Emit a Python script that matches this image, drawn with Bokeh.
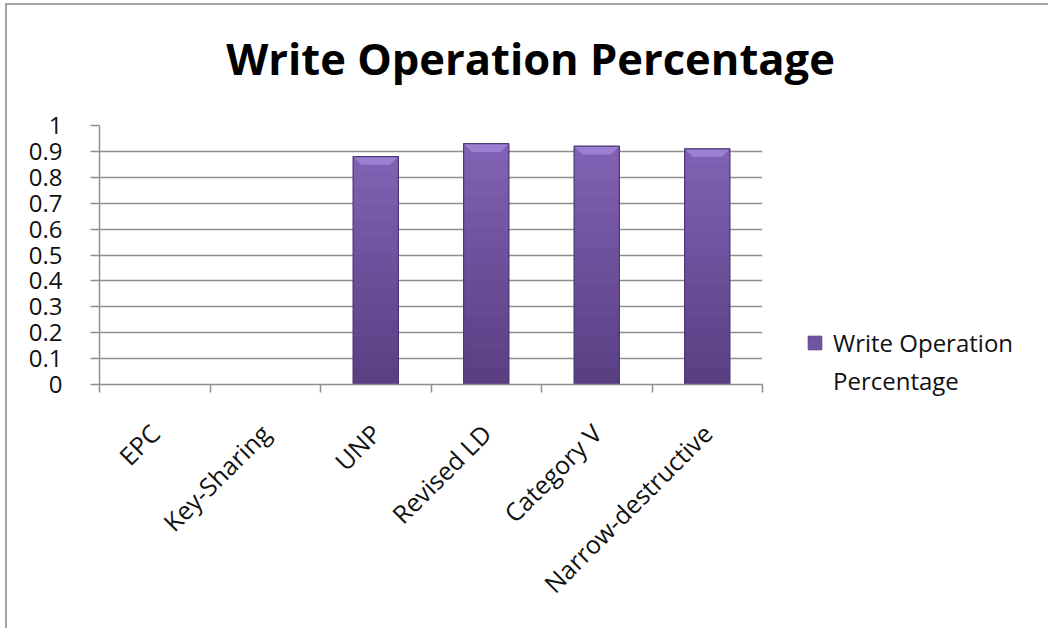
import math
from bokeh.plotting import figure
from bokeh.models import FixedTicker, Range1d, Legend, LegendItem, Label
from bokeh.embed import file_html
from bokeh.resources import INLINE

# ---- data ----
categories = ["EPC", "Key-Sharing", "UNP", "Revised LD", "Category V", "Narrow-destructive"]
write_pct = [0.0, 0.0, 0.88, 0.93, 0.92, 0.91]
y_ticks = [0.0, 0.1, 0.2, 0.3, 0.4, 0.5, 0.6, 0.7, 0.8, 0.9, 1.0]
y_tick_labels = ["0", "0.1", "0.2", "0.3", "0.4", "0.5", "0.6", "0.7", "0.8", "0.9", "1"]
series_name = "Write Operation Percentage"
title_text = "Write Operation Percentage"

FONT = "Open Sans"
GRID = "#8f8f8f"
BAR_W = 0.41
BAR_FILL = "#6c4f9e"

xs = list(range(len(categories)))
bounds = [i - 0.5 for i in range(len(categories) + 1)]


def overlay(width, height, left, top):
    f = figure(width=width, height=height,
               x_range=Range1d(0, width), y_range=Range1d(0, height),
               x_axis_location=None, y_axis_location=None,
               output_backend="svg", toolbar_location=None,
               min_border_left=0, min_border_right=0,
               min_border_top=0, min_border_bottom=0)
    f.styles = {"position": "absolute", "left": f"{left}px", "top": f"{top}px"}
    f.outline_line_color = None
    f.background_fill_alpha = 0
    f.border_fill_alpha = 0
    f.grid.visible = False
    return f


p = figure(width=1043, height=625,
           x_range=Range1d(bounds[0], bounds[-1]), y_range=Range1d(0, 1),
           output_backend="svg", toolbar_location=None,
           min_border_left=92, min_border_top=120,
           min_border_right=288, min_border_bottom=246)
p.styles = {"margin-left": "5px", "margin-top": "3px",
            "border-left": "2px solid #a3a3a3", "border-top": "2px solid #a3a3a3"}
p.outline_line_color = None
p.background_fill_color = "white"
p.border_fill_color = "white"

# y axis
yt = FixedTicker(ticks=y_ticks)
p.yaxis.ticker = yt
p.yaxis.major_label_overrides = {t: l for t, l in zip(y_ticks, y_tick_labels)}
p.yaxis.minor_tick_line_color = None
p.yaxis.major_tick_in = 0
p.yaxis.major_tick_out = 9
p.yaxis.major_tick_line_color = GRID
p.yaxis.major_tick_line_width = 1.5
p.yaxis.axis_line_color = GRID
p.yaxis.axis_line_width = 1.5
p.yaxis.major_label_standoff = 28
p.yaxis.major_label_text_font = FONT
p.yaxis.major_label_text_font_size = "24px"
p.yaxis.major_label_text_color = "#111111"

p.ygrid.ticker = yt
p.ygrid.grid_line_color = GRID
p.ygrid.grid_line_width = 1.5
p.xgrid.visible = False

# x axis: labels at category centres, ticks at boundaries
xt = FixedTicker(ticks=xs, minor_ticks=bounds)
p.xaxis.ticker = xt
p.xaxis.major_label_overrides = {x: c for x, c in zip(xs, categories)}
p.xaxis.major_tick_in = 0
p.xaxis.major_tick_out = 0
p.xaxis.minor_tick_in = 0
p.xaxis.minor_tick_out = 8
p.xaxis.minor_tick_line_color = GRID
p.xaxis.minor_tick_line_width = 1.5
p.xaxis.axis_line_color = GRID
p.xaxis.axis_line_width = 1.5
p.xaxis.major_label_orientation = math.pi / 4
p.xaxis.major_label_standoff = 36
p.xaxis.major_label_text_font = FONT
p.xaxis.major_label_text_font_size = "25px"
p.xaxis.major_label_text_color = "#111111"

# bars
p.vbar(x=xs, top=write_pct, bottom=0, width=BAR_W, fill_color=BAR_FILL, line_color=None)

nz = [(x, v) for x, v in zip(xs, write_pct) if v > 0]
N = 14
top_c = (0x80, 0x60, 0xb3)
bot_c = (0x5a, 0x40, 0x83)
bx, bb, bt, bc = [], [], [], []
for x, v in nz:
    for k in range(N):
        f = k / (N - 1)
        col = tuple(round(bot_c[i] + (top_c[i] - bot_c[i]) * f) for i in range(3))
        bx.append(x)
        bb.append(v * k / N)
        bt.append(v * (k + 1) / N)
        bc.append("#%02x%02x%02x" % col)
p.vbar(x=bx, top=bt, bottom=bb, width=BAR_W, fill_color=bc, line_color=None)

# bevel cap
cap_h = 0.032
inset = 0.075
cxs, cys = [], []
for x, v in nz:
    cxs.append([x - BAR_W / 2, x + BAR_W / 2, x + BAR_W / 2 - inset, x - BAR_W / 2 + inset])
    cys.append([v, v, v - cap_h, v - cap_h])
p.patches(cxs, cys, fill_color="#9b80d1", line_color=None)

# outline
p.vbar(x=[x for x, v in nz], top=[v for x, v in nz], bottom=0, width=BAR_W,
       fill_alpha=0, line_color="#4f3775", line_width=1.2)

# ---- title (transparent overlay) ----
tf = overlay(700, 110, 180, 8)
tf.add_layout(Label(x=350, y=60, text=title_text, text_align="center",
                    text_baseline="alphabetic", text_font=FONT,
                    text_font_size="43.5px", text_font_style="bold",
                    text_color="#000000"))

# ---- legend (transparent overlay over the right margin) ----
lg = overlay(240, 80, 806, 326)
swatch = lg.vbar(x=[-5], top=[0], bottom=[0], width=0.5,
                 fill_color="#7152a3", line_color="#5a4185")
ghost = lg.vbar(x=[-5], top=[0], bottom=[0], width=0.5, fill_alpha=0, line_alpha=0)

line1, line2 = series_name.rsplit(" ", 1)
legend = Legend(items=[LegendItem(label=line1, renderers=[swatch]),
                       LegendItem(label=line2, renderers=[ghost])],
                location="top_left", orientation="vertical",
                glyph_width=17, glyph_height=17, label_standoff=10,
                label_text_font=FONT, label_text_font_size="24px",
                label_text_color="#111111", label_height=30,
                spacing=5, padding=0, margin=0,
                border_line_color=None, background_fill_alpha=0)
lg.add_layout(legend)

open("out.html", "w").write(file_html([p, tf, lg], INLINE))
